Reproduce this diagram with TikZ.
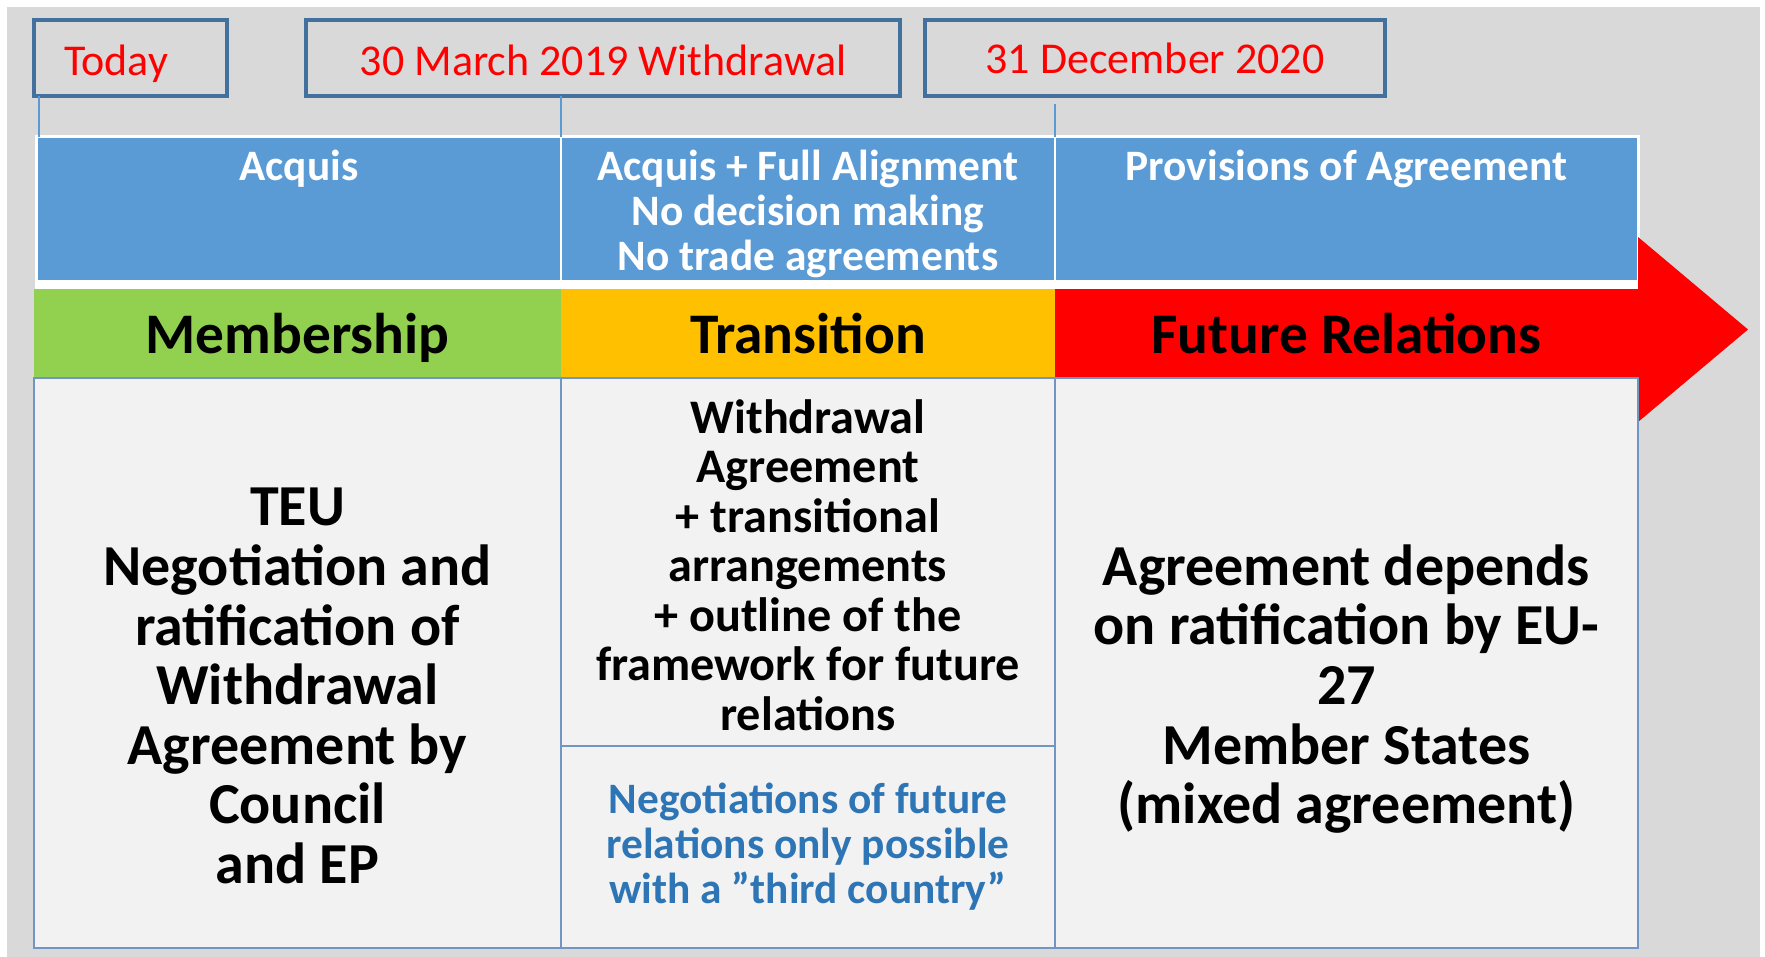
\documentclass[tikz,border=0pt]{standalone}
\usepackage{fontspec}
\setmainfont{Carlito}
\usetikzlibrary{positioning}

\definecolor{bgGrey}{HTML}{D9D9D9}
\definecolor{cellGrey}{HTML}{F2F2F2}
\definecolor{hdrBlue}{HTML}{5B9BD5}
\definecolor{boxBlue}{HTML}{41719C}
\definecolor{lineBlue}{HTML}{7296C3}
\definecolor{txtBlue}{HTML}{2E75B6}
\definecolor{memGreen}{HTML}{92D050}
\definecolor{traOrange}{HTML}{FFC000}
\definecolor{futRed}{HTML}{FF0000}

\begin{document}
\begin{tikzpicture}[x=0.5pt,y=-0.5pt,inner sep=0pt,outer sep=0pt]
  \tikzstyle{date}=[draw=boxBlue,line width=1.75pt,fill=bgGrey,text=red,minimum height=38pt,font=\fontsize{22}{26}\selectfont]
  \tikzstyle{tick}=[draw=hdrBlue,line width=1.2pt]
  \tikzstyle{hdr}=[fill=hdrBlue,draw=white,line width=1pt,minimum height=72pt]
  \tikzstyle{hdrtext}=[text=white,align=center,font=\bfseries\fontsize{21.7}{22.5}\selectfont]
  \tikzstyle{band}=[minimum height=44.5pt,text height=19.5pt,text depth=0pt,font=\bfseries\fontsize{28.7}{30}\selectfont]
  \tikzstyle{cell}=[fill=cellGrey,draw=lineBlue,line width=0.8pt]
  \tikzstyle{big}=[align=center,font=\bfseries\fontsize{29}{29.8}\selectfont]

  \useasboundingbox (0,0) rectangle (1765,957);
  \fill[bgGrey] (7,7) rectangle (1760,957);

  % dates
  \node[date,anchor=north west,minimum width=96.5pt] (today) at (34,20) {};
  \node[text=red,font=\fontsize{22}{26}\selectfont,text height=17.6pt,text depth=0pt,right=15pt of today.west] {Today};
  \node[date,anchor=north west,minimum width=297pt,text height=17.6pt,text depth=0pt] (wd) at (306,20) {30 March 2019 Withdrawal};
  \node[date,anchor=north west,minimum width=230pt] (dec) at (925,20) {31 December 2020};

  % header row
  \fill[white] (35,135) rectangle (1640,289);
  \node[hdr,minimum width=262pt,anchor=north west] (acq) at (37,137) {};
  \node[hdr,minimum width=247pt,right=0pt of acq] (alig) {};
  \node[hdr,minimum width=291.5pt,right=0pt of alig] (prov) {};
  \node[hdrtext,below=6.5pt of acq.north] {Acquis};
  \node[hdrtext,below=6.5pt of alig.north] {Acquis + Full Alignment\\No decision making\\No trade agreements};
  \node[hdrtext,below=6.5pt of prov.north] {Provisions of Agreement};

  \coordinate (t0) at ([xshift=2.5pt]today.south west);
  \draw[tick] (t0) -- (t0 |- acq.north);
  \draw[tick] (acq.north east |- wd.south) -- (acq.north east);
  \draw[tick,shorten <=4pt] (alig.north east |- dec.south) -- (alig.north east);

  % phases
  \node[band,fill=memGreen,minimum width=263.5pt,anchor=north west] (memb) at (34,289) {Membership};
  \node[band,fill=traOrange,minimum width=247pt,right=0pt of memb] (tran) {Transition};
  \node[band,fill=futRed,minimum width=291.5pt,right=0pt of tran] (fut) {Future Relations};
  \fill[futRed] (fut.north east) -- ++(0,-52) -- ++(110,92.5) -- ++(-110,92.5) -- (fut.south east) -- cycle;

  % bodies
  \node[cell,minimum width=263.5pt,minimum height=285pt,below=0pt of memb] (membbody) {};
  \node[cell,minimum width=247pt,minimum height=184pt,below=0pt of tran] (trantop) {};
  \node[cell,minimum width=247pt,minimum height=101pt,below=0pt of trantop] (tranbot) {};
  \node[cell,minimum width=291.5pt,minimum height=285pt,below=0pt of fut] (futbody) {};

  \node[big] at ([yshift=-11.5pt]membbody.center) {TEU\\Negotiation and\\ratification of\\Withdrawal\\Agreement by\\Council\\and EP};
  \node[align=center,font=\bfseries\fontsize{24.1}{24.75}\selectfont] at ([yshift=-1.5pt]trantop.center) {Withdrawal\\Agreement\\+ transitional\\arrangements\\+ outline of the\\framework for future\\relations};
  \node[align=center,text=txtBlue,font=\bfseries\fontsize{21.7}{22.5}\selectfont] at (tranbot.center) {Negotiations of future\\relations only possible\\with a ”third country”};
  \node[big] at ([yshift=-13pt]futbody.center) {Agreement depends\\on ratification by EU-\\27\\Member States\\(mixed agreement)};
\end{tikzpicture}
\end{document}
